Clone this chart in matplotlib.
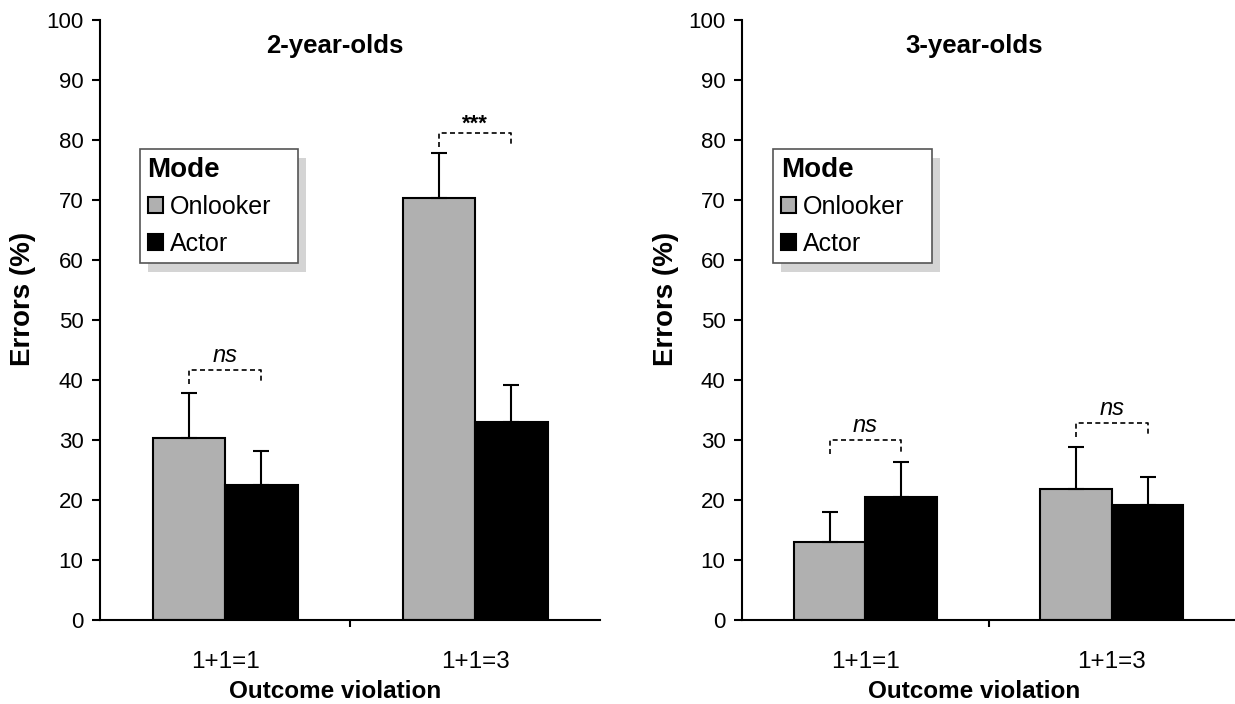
import numpy as np
import matplotlib
matplotlib.use("Agg")
import matplotlib.pyplot as plt
from matplotlib.patches import Rectangle

plt.rcParams['font.family'] = ['Liberation Sans', 'DejaVu Sans']

# error rates (%) with the top of the SE bar, per age group
violations = ["1+1=1", "1+1=3"]
modes = ["Onlooker", "Actor"]

onlooker_2y = [30.4, 70.3]
onlooker_2y_err = [7.5, 7.6]
actor_2y = [22.6, 33.0]
actor_2y_err = [5.6, 6.2]

onlooker_3y = [13.0, 21.8]
onlooker_3y_err = [5.0, 7.1]
actor_3y = [20.6, 19.2]
actor_3y_err = [5.7, 4.7]

# significance labels and bracket heights
sig_2y = ["ns", "***"]
sig_2y_y = [41.7, 81.2]
sig_3y = ["ns", "ns"]
sig_3y_y = [30.0, 32.8]

grey = "#b0b0b0"
width = 0.29


def draw_panel(ax, title, onl, onl_err, act, act_err, sig, sig_y, leg_box):
    x = np.arange(len(violations))
    ax.bar(x - width / 2, onl, width, color=grey, edgecolor="black", linewidth=1.5,
           yerr=[np.zeros(len(onl)), onl_err], capsize=6,
           error_kw=dict(elinewidth=1.5, capthick=1.5, ecolor="black"), label=modes[0], zorder=2)
    ax.bar(x + width / 2, act, width, color="black", edgecolor="black", linewidth=1.5,
           yerr=[np.zeros(len(act)), act_err], capsize=6,
           error_kw=dict(elinewidth=1.5, capthick=1.5, ecolor="black"), label=modes[1], zorder=2)

    # dashed brackets between the two bars
    for i, (lab, yb) in enumerate(zip(sig, sig_y)):
        x0, x1 = i - width / 2, i + width / 2
        ax.plot([x0, x0, x1, x1], [yb - 2.3, yb, yb, yb - 2.3], color="black",
                linestyle=(0, (3, 2)), linewidth=1.2)
        if lab == "ns":
            ax.text(i, yb + 0.5, lab, ha="center", va="bottom", fontsize=17, style="italic")
        else:
            ax.text(i, yb - 0.3, lab, ha="center", va="bottom", fontsize=16, fontweight="bold")

    ax.set_xlim(-0.5, 1.5)
    ax.set_ylim(0, 100)
    ax.set_yticks(np.arange(0, 101, 10))
    ax.set_xticks(x)
    ax.set_xticklabels(violations, fontsize=17.5)
    ax.tick_params(axis="x", length=0, pad=22)
    ax.set_xticks([0.5], minor=True)
    ax.tick_params(axis="x", which="minor", length=5, width=1.5, direction="out")
    ax.tick_params(axis="y", labelsize=16, length=6, width=1.5, direction="out", pad=6)
    for s in ["top", "right"]:
        ax.spines[s].set_visible(False)
    for s in ["left", "bottom"]:
        ax.spines[s].set_linewidth(1.5)

    ax.set_ylabel("Errors (%)", fontsize=20, fontweight="bold")
    ax.yaxis.set_label_coords(-0.128, 0.535)
    ax.set_xlabel("Outcome violation", fontsize=17.5, fontweight="bold")
    ax.xaxis.set_label_coords(0.47, -0.1)
    ax.text(0.47, 0.957, title, transform=ax.transAxes, ha="center", va="center",
            fontsize=18.5, fontweight="bold")

    leg = ax.legend(title="Mode", loc="upper left", bbox_to_anchor=leg_box, mode="expand",
                    fontsize=18, title_fontproperties=dict(size=20, weight="bold"),
                    frameon=True, fancybox=False, edgecolor="#555555", framealpha=1,
                    handlelength=0.6, handleheight=0.6, handletextpad=0.3,
                    borderpad=0.3, labelspacing=0.5, borderaxespad=0)
    leg._legend_box.align = "left"
    leg.get_frame().set_linewidth(1.2)
    return leg


fig = plt.figure(figsize=(12.35, 7.04), dpi=100)
ax1 = fig.add_axes([0.081, 0.119, 0.405, 0.8526])
ax2 = fig.add_axes([0.601, 0.119, 0.399, 0.8526])

legs = [draw_panel(ax1, "2-year-olds", onlooker_2y, onlooker_2y_err, actor_2y, actor_2y_err,
                   sig_2y, sig_2y_y, (0.08, 0.585, 0.316, 0.2)),
        draw_panel(ax2, "3-year-olds", onlooker_3y, onlooker_3y_err, actor_3y, actor_3y_err,
                   sig_3y, sig_3y_y, (0.063, 0.585, 0.322, 0.2))]

# grey drop shadow behind each legend box
fig.canvas.draw()
for ax, leg in zip([ax1, ax2], legs):
    bb = leg.get_window_extent()
    inv = ax.transAxes.inverted()
    (ax0, ay0), (ax1_, ay1) = inv.transform([[bb.x0 + 8, bb.y0 - 9], [bb.x1 + 8, bb.y1 - 9]])
    ax.add_patch(Rectangle((ax0, ay0), ax1_ - ax0, ay1 - ay0, transform=ax.transAxes,
                           facecolor="#d4d4d4", edgecolor="none", zorder=4, clip_on=False))

fig.savefig("out.png", dpi=100, facecolor="white")
